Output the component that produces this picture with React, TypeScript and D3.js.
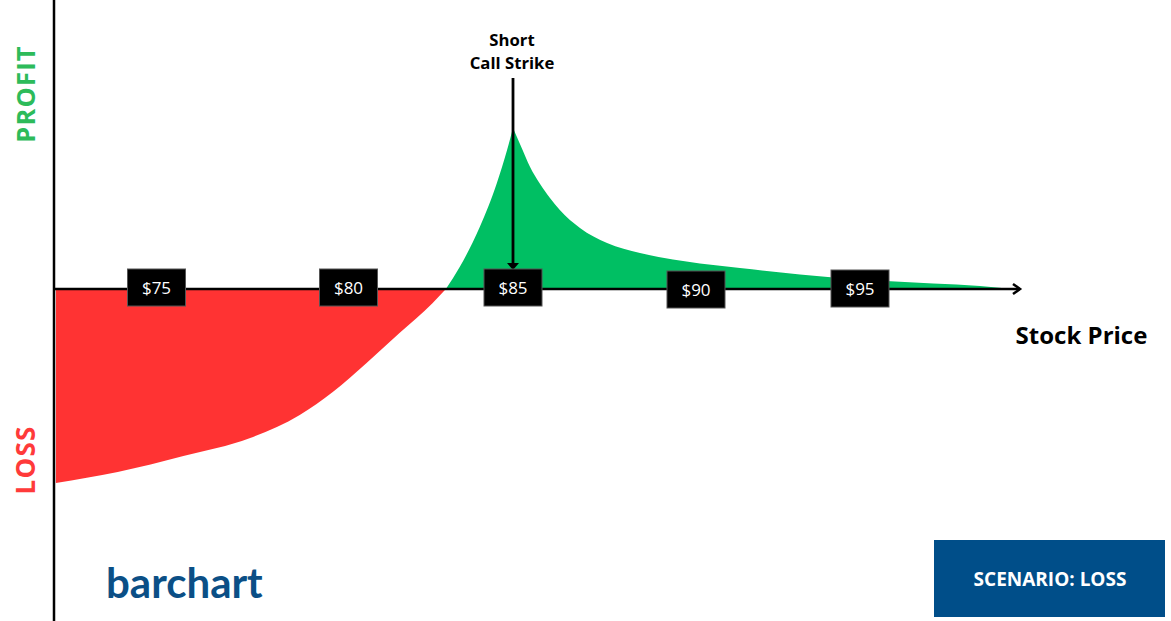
import React from "react";
import * as d3 from "d3";

// ---- data ----
const tickPrices = [75, 80, 85, 90, 95];
const tickLabels = ["$75", "$80", "$85", "$90", "$95"];
const tickNudge = [0, 0, 0, 2, 1];

const lossPrices = [72.38, 73.99, 75.7, 77.44, 78.73, 79.59, 80.55, 81.55, 82.56, 82.96];
const lossValues = [-3.88, -3.66, -3.34, -2.98, -2.52, -2.06, -1.48, -0.88, -0.28, 0];

const risePrices = [82.96, 83.38, 83.99, 84.51, 84.82, 85];
const riseValues = [0, 0.44, 1.24, 2.12, 2.78, 3.22];

const fallPrices = [85, 85.25, 85.46, 85.74, 86.01, 86.28, 86.83, 87.57, 88.47, 89.37, 90.12, 91.34, 93.17, 95.21, 97.23, 98.66, 99.66];
const fallValues = [3.22, 2.8, 2.45, 2.1, 1.82, 1.58, 1.22, 0.92, 0.72, 0.59, 0.51, 0.42, 0.29, 0.18, 0.11, 0.06, 0];

const strikePrice = 85;

const W = 1171;
const H = 621;
const FONT = "'Open Sans', 'Noto Sans', sans-serif";

export default function App() {
  const x = d3.scaleLinear().domain(tickPrices).range([156.5, 348.5, 513, 696, 860]);
  const y = d3.scaleLinear().domain([-4, 4]).range([489, 89]);
  const y0 = y(0);
  const axisLeft = 54;
  const axisRight = 1020;

  const area = d3
    .area<[number, number]>()
    .x((d) => x(d[0]))
    .y0(y0)
    .y1((d) => y(d[1]))
    .curve(d3.curveMonotoneX);

  const zip = (a: number[], b: number[]) => a.map((p, i) => [p, b[i]] as [number, number]);

  const lossPath = area(zip(lossPrices, lossValues)) || "";
  const risePath = area(zip(risePrices, riseValues)) || "";
  const fallPath = area(zip(fallPrices, fallValues)) || "";

  const sx = x(strikePrice);
  const boxW = 58;
  const boxH = 37;

  return (
    <svg
      width={W}
      height={H}
      viewBox={`0 0 ${W} ${H}`}
      style={{ position: "absolute", left: 0, top: 0, background: "#fff" }}
    >
      <rect x={0} y={0} width={W} height={H} fill="#fff" />
      <path d={lossPath} fill="#ff3333" />
      <path d={risePath} fill="#00bf63" />
      <path d={fallPath} fill="#00bf63" />

      {/* y axis */}
      <line x1={axisLeft} x2={axisLeft} y1={0} y2={H} stroke="#000" strokeWidth={2.5} />
      {/* x axis */}
      <line x1={axisLeft} x2={axisRight} y1={y0} y2={y0} stroke="#000" strokeWidth={2.5} />
      <polyline
        points={`${axisRight - 7},${y0 - 5} ${axisRight},${y0} ${axisRight - 7},${y0 + 5}`}
        fill="none"
        stroke="#000"
        strokeWidth={2.5}
      />

      {/* annotation arrow */}
      <line x1={sx} x2={sx} y1={78} y2={266} stroke="#000" strokeWidth={2.8} />
      <polygon points={`${sx - 6},${263} ${sx + 6},${263} ${sx},${270}`} fill="#000" />
      <text x={sx - 1} y={46} textAnchor="middle" fontFamily={FONT} fontWeight={700} fontSize={16.7} fill="#000">
        Short
      </text>
      <text x={sx - 1} y={69} textAnchor="middle" fontFamily={FONT} fontWeight={700} fontSize={16.7} fill="#000">
        Call Strike
      </text>

      {/* tick boxes */}
      {tickPrices.map((p, i) => {
        const cx = x(p);
        const top = y0 - 20 + tickNudge[i];
        return (
          <g key={p}>
            <rect x={cx - boxW / 2} y={top} width={boxW} height={boxH} fill="#000" stroke="#555" strokeWidth={1} />
            <text
              x={cx}
              y={top + boxH / 2 + 6}
              textAnchor="middle"
              fontFamily={FONT}
              fontSize={17}
              fill="#fff"
            >
              {tickLabels[i]}
            </text>
          </g>
        );
      })}

      {/* axis titles */}
      <text x={1081.5} y={344} textAnchor="middle" fontFamily={FONT} fontWeight={700} fontSize={24} fill="#000">
        Stock Price
      </text>
      <text
        transform={`translate(35,94) rotate(-90)`}
        textAnchor="middle"
        fontFamily={FONT}
        fontWeight={700}
        fontSize={25.5}
        fill="#2dbb5a"
        letterSpacing={1.2}
      >
        PROFIT
      </text>
      <text
        transform={`translate(35,460) rotate(-90)`}
        textAnchor="middle"
        fontFamily={FONT}
        fontWeight={700}
        fontSize={26}
        fill="#ff3a3a"
        letterSpacing={1.2}
      >
        LOSS
      </text>

      {/* logo */}
      <text x={106} y={598} fontFamily="Lato, 'Open Sans', sans-serif" fontWeight={700} fontSize={42} fill="#0b4f86">
        barchart
      </text>

      {/* scenario box */}
      <rect x={934} y={540} width={231} height={77} fill="#004e89" />
      <text x={1050} y={586} textAnchor="middle" fontFamily={FONT} fontWeight={700} fontSize={19} fill="#fff">
        SCENARIO: LOSS
      </text>
    </svg>
  );
}
